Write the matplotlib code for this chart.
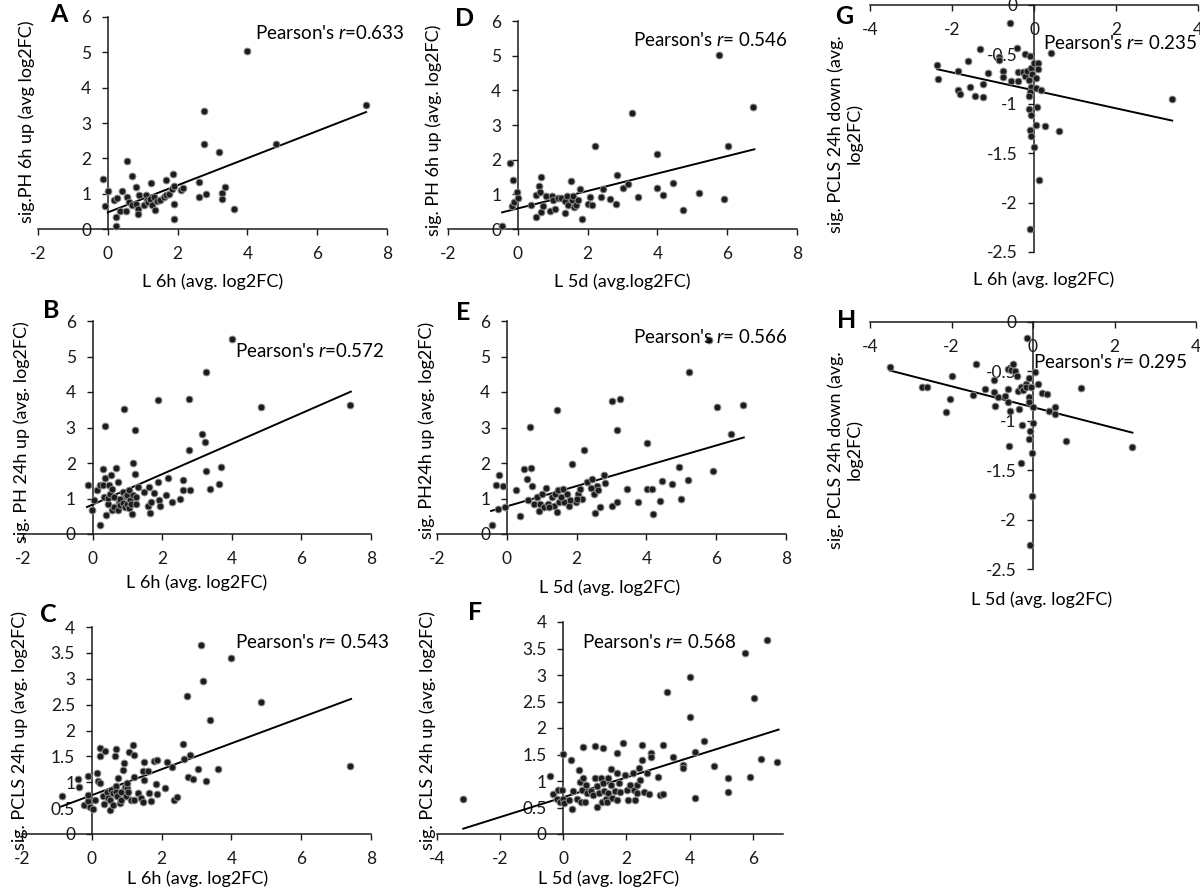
import matplotlib.pyplot as plt
from matplotlib.ticker import FuncFormatter, MultipleLocator

plt.rcParams['font.family'] = ['Lato', 'DejaVu Sans']
plt.rcParams['mathtext.fontset'] = 'custom'
plt.rcParams['mathtext.rm'] = 'Lato'
plt.rcParams['mathtext.it'] = 'Lato:italic'

# ---- panel A: L 6h vs sig. PH 6h up
a_x = [-0.13, -0.07, 0.01, 0.17, 0.25, 0.24, 0.24, 0.34, 0.41, 0.53, 0.55, 0.55, 0.61, 0.70, 0.70,
       0.82, 0.82, 0.86, 0.86, 0.90, 1.05, 1.10, 1.12, 1.14, 1.22, 1.24, 1.27, 1.31, 1.36, 1.41,
       1.50, 1.60, 1.68, 1.68, 1.74, 1.84, 1.87, 1.89, 1.89, 1.91, 2.10, 2.15, 2.61, 2.61, 2.77,
       2.77, 2.82, 3.20, 3.26, 3.28, 3.37, 3.62, 4.00, 4.82, 7.40]
a_y = [1.41, 0.65, 1.08, 0.81, 0.88, 0.33, 0.08, 0.51, 1.08, 0.51, 1.92, 0.91, 0.77, 1.51, 0.69,
       1.18, 0.72, 0.56, 0.43, 0.96, 0.68, 0.96, 0.81, 0.76, 0.86, 1.31, 0.67, 0.91, 0.55, 0.78,
       0.81, 0.91, 1.38, 0.95, 1.00, 1.14, 1.55, 1.23, 0.29, 0.72, 1.11, 1.16, 1.33, 0.91, 3.35,
       2.40, 0.98, 2.18, 1.03, 0.85, 1.18, 0.56, 5.04, 2.41, 3.51]
a_fit_x = [0.0, 7.4]
a_fit_y = [0.47, 3.31]

# ---- panel D: L 5d vs sig. PH 6h up
d_x = [-0.44, -0.23, -0.17, -0.14, -0.11, -0.02, 0.00, 0.38, 0.51, 0.53, 0.61, 0.63, 0.67, 0.67,
       0.71, 0.80, 0.91, 0.99, 1.01, 1.07, 1.16, 1.25, 1.34, 1.35, 1.41, 1.44, 1.52, 1.54, 1.59,
       1.62, 1.68, 1.73, 1.79, 1.85, 2.02, 2.06, 2.13, 2.20, 2.38, 2.45, 2.63, 2.82, 2.83, 3.01,
       3.16, 3.27, 3.44, 3.99, 4.00, 4.17, 4.45, 4.73, 5.20, 5.77, 5.91, 6.02, 6.75]
d_y = [0.09, 1.91, 0.65, 1.40, 0.79, 1.07, 0.88, 0.69, 0.34, 0.99, 1.23, 1.07, 1.51, 0.50,
       0.66, 0.95, 0.53, 0.95, 0.85, 0.58, 0.89, 0.88, 0.82, 0.46, 0.96, 0.69, 1.38, 0.83, 0.96,
       0.63, 0.69, 0.83, 1.16, 0.30, 0.73, 0.91, 0.69, 2.38, 0.91, 1.14, 0.86, 0.73, 1.56, 1.17,
       1.31, 3.35, 0.91, 2.17, 1.18, 0.99, 1.34, 0.56, 1.04, 5.03, 0.87, 2.39, 3.52]
d_fit_x = [-0.45, 6.78]
d_fit_y = [0.48, 2.30]

# ---- panel G: L 6h vs sig. PCLS 24h down
g_x = [-2.36, -2.35, -1.86, -1.86, -1.80, -1.61, -1.55, -1.45, -1.31, -1.25, -1.25, -1.12, -0.86,
       -0.85, -0.76, -0.76, -0.59, -0.56, -0.42, -0.40, -0.38, -0.28, -0.22, -0.22, -0.16, -0.12,
       -0.09, -0.07, -0.07, -0.09, -0.12, -0.12, -0.09, -0.07, -0.01, -0.07, -0.04, 0.00, 0.04,
       0.07, 0.04, 0.04, 0.09, 0.09, -0.10, 0.12, 0.17, 0.28, 0.41, 0.61, 3.36]
g_y = [-0.61, -0.75, -0.67, -0.86, -0.90, -0.57, -0.83, -0.92, -0.45, -0.80, -0.93, -0.69, -0.53,
       -0.56, -0.67, -0.73, -0.18, -0.77, -0.44, -0.68, -0.77, -0.68, -0.50, -0.72, -0.67, -0.76,
       -0.52, -0.64, -0.83, -0.88, -0.92, -1.05, -1.27, -1.33, -1.44, -1.11, -0.70, -0.59, -0.74,
       -1.03, -1.21, -0.84, -0.59, -0.65, -2.27, -1.77, -0.86, -1.22, -0.49, -1.28, -0.95]
g_fit_x = [-2.36, 3.37]
g_fit_y = [-0.65, -1.17]

# ---- panel B: L 6h vs sig. PH 24h up
b_x = [-0.12, -0.02, 0.05, 0.14, 0.20, 0.22, 0.29, 0.30, 0.34, 0.35, 0.37, 0.39, 0.43, 0.45, 0.46,
       0.51, 0.53, 0.55, 0.57, 0.62, 0.62, 0.67, 0.72, 0.74, 0.77, 0.80, 0.80, 0.86, 0.88, 0.89,
       0.93, 0.96, 0.99, 1.00, 1.05, 1.05, 1.07, 1.10, 1.13, 1.15, 1.15, 1.23, 1.23, 1.25, 1.25,
       1.31, 1.48, 1.58, 1.63, 1.65, 1.68, 1.77, 1.87, 1.89, 1.92, 1.93, 2.10, 2.16, 2.29, 2.51,
       2.61, 2.61, 2.76, 2.77, 2.81, 3.15, 3.22, 3.27, 3.27, 3.38, 3.62, 3.70, 4.00, 4.85, 7.41]
b_y = [1.37, 0.67, 0.95, 1.25, 1.39, 0.26, 1.82, 1.37, 1.04, 3.03, 1.57, 0.53, 0.85, 1.02, 1.37,
       1.12, 1.67, 1.28, 0.67, 1.04, 0.75, 1.87, 0.67, 1.47, 0.90, 0.81, 1.00, 1.18, 0.88, 3.51,
       0.75, 1.06, 0.85, 1.10, 1.23, 0.72, 0.97, 0.85, 0.55, 2.00, 1.09, 2.94, 1.68, 1.04, 0.84,
       1.31, 1.19, 0.78, 1.31, 0.59, 0.91, 1.15, 1.46, 3.77, 0.95, 0.79, 1.10, 1.58, 0.91, 1.00,
       1.51, 1.25, 3.79, 2.38, 1.25, 2.83, 2.58, 4.56, 1.78, 1.26, 1.40, 1.89, 5.48, 3.58, 3.63]
b_fit_x = [-0.16, 7.42]
b_fit_y = [0.76, 4.01]

# ---- panel E: L 5d vs sig. PH 24h up
e_x = [-0.43, -0.32, -0.24, -0.22, -0.12, -0.05, 0.27, 0.39, 0.48, 0.59, 0.62, 0.67, 0.70, 0.73,
       0.77, 0.86, 0.92, 0.94, 1.00, 1.07, 1.13, 1.17, 1.29, 1.36, 1.39, 1.44, 1.44, 1.48, 1.51,
       1.60, 1.65, 1.72, 1.79, 1.82, 1.88, 1.99, 2.03, 2.11, 2.16, 2.20, 2.30, 2.44, 2.49, 2.52,
       2.58, 2.66, 2.79, 2.82, 3.00, 3.00, 3.16, 3.16, 3.25, 3.45, 3.76, 4.02, 4.02, 4.17, 4.19,
       4.40, 4.46, 4.74, 4.93, 5.00, 5.19, 5.21, 5.78, 5.91, 6.03, 6.42, 6.76,
       1.20, 1.55, 2.00, 2.40, 2.60]
e_y = [0.26, 1.37, 0.71, 1.65, 1.35, 0.76, 1.25, 0.52, 1.82, 1.54, 0.95, 3.02, 1.86, 1.36,
       0.85, 1.04, 0.65, 0.85, 1.14, 0.76, 1.29, 0.85, 1.04, 0.78, 1.14, 0.63, 3.50, 1.23, 0.91,
       1.28, 0.89, 1.12, 0.78, 0.95, 1.98, 0.90, 1.12, 1.27, 0.98, 2.37, 1.46, 1.56, 1.12, 0.60,
       1.36, 0.76, 1.67, 1.44, 3.74, 0.79, 2.94, 0.91, 3.79, 1.26, 0.91, 2.57, 1.26, 1.26, 0.55,
       0.93, 1.50, 1.41, 1.89, 1.00, 1.51, 4.56, 5.46, 1.78, 3.57, 2.82, 3.62,
       0.75, 1.05, 1.00, 1.30, 1.25]
e_fit_x = [-0.45, 6.79]
e_fit_y = [0.65, 2.72]

# ---- panel H: L 5d vs sig. PCLS 24h down
h_x = [-3.52, -2.72, -2.59, -2.13, -2.04, -1.99, -1.48, -1.39, -1.19, -0.96, -0.96, -0.93, -0.86,
       -0.68, -0.62, -0.61, -0.61, -0.60, -0.56, -0.53, -0.48, -0.43, -0.40, -0.38, -0.34, -0.30,
       -0.29, -0.26, -0.24, -0.18, -0.16, -0.14, -0.11, -0.11, -0.11, -0.09, -0.07, -0.06, -0.07,
       -0.03, -0.02, 0.00, 0.01, 0.05, 0.12, 0.22, 0.34, 0.40, 0.54, 0.54, 0.80, 1.18, 2.42]
h_y = [-0.46, -0.66, -0.66, -0.91, -0.78, -0.55, -0.74, -0.43, -0.68, -0.59, -0.71, -0.85, -0.76,
       -0.75, -0.48, -0.68, -0.81, -1.25, -0.90, -0.49, -0.43, -0.50, -0.55, -0.70, -0.88, -1.43,
       -0.66, -1.04, -0.69, -0.63, -0.66, -0.16, -0.76, -0.81, -0.57, -1.18, -1.10, -0.66, -2.26,
       -1.33, -1.76, -0.86, -1.02, -0.51, -0.63, -0.72, -0.73, -0.90, -0.86, -0.93, -1.20, -0.67,
       -1.27]
h_fit_x = [-3.52, 2.44]
h_fit_y = [-0.49, -1.12]

# ---- panel C: L 6h vs sig. PCLS 24h up
c_x = [-0.86, -0.40, -0.38, -0.21, -0.11, -0.10, -0.10, -0.04, 0.03, 0.10, 0.15, 0.17, 0.24, 0.24,
       0.24, 0.32, 0.36, 0.38, 0.44, 0.45, 0.51, 0.53, 0.55, 0.60, 0.60, 0.67, 0.69, 0.70, 0.70,
       0.73, 0.76, 0.80, 0.84, 0.85, 0.89, 0.92, 0.94, 0.98, 1.00, 1.01, 1.05, 1.08, 1.11, 1.17,
       1.20, 1.22, 1.22, 1.32, 1.41, 1.46, 1.48, 1.49, 1.51, 1.60, 1.63, 1.70, 1.78, 1.84, 1.86,
       1.87, 2.11, 2.15, 2.29, 2.35, 2.45, 2.61, 2.63, 2.72, 2.75, 2.80, 2.89, 3.04, 3.14, 3.20,
       3.28, 3.39, 3.63, 4.00, 4.85, 7.41]
c_y = [0.73, 1.07, 0.91, 0.57, 0.63, 1.12, 0.76, 0.52, 0.49, 0.66, 1.17, 1.03, 1.66, 1.50,
       0.98, 0.73, 0.58, 1.61, 0.82, 0.70, 0.46, 0.66, 0.85, 0.57, 0.80, 1.50, 1.64, 0.93, 0.82,
       0.74, 1.08, 0.60, 0.82, 0.65, 1.23, 1.38, 0.90, 0.73, 0.88, 0.98, 0.82, 1.59, 0.66, 1.72,
       1.53, 1.10, 0.66, 0.79, 0.69, 1.21, 0.61, 1.39, 1.05, 1.21, 0.79, 0.63, 1.41, 0.97, 1.43,
       0.77, 0.89, 1.39, 1.29, 0.66, 0.71, 1.74, 1.44, 2.66, 1.11, 1.53, 1.07, 1.25, 3.65, 2.95,
       1.03, 2.20, 1.26, 3.41, 2.55, 1.32]
c_fit_x = [-0.88, 7.43]
c_fit_y = [0.53, 2.61]

# ---- panel F: L 5d vs sig. PCLS 24h up
f_x = [-3.19, -0.42, -0.32, -0.19, -0.16, -0.11, -0.05, 0.00, 0.00, 0.02, 0.19, 0.23, 0.29, 0.32,
       0.45, 0.51, 0.53, 0.55, 0.58, 0.63, 0.63, 0.69, 0.71, 0.74, 0.87, 0.93, 1.00, 1.00, 1.06,
       1.08, 1.13, 1.18, 1.22, 1.25, 1.25, 1.29, 1.34, 1.37, 1.43, 1.43, 1.50, 1.50, 1.53, 1.64,
       1.69, 1.69, 1.71, 1.78, 1.80, 1.90, 1.96, 2.03, 2.06, 2.11, 2.20, 2.25, 2.27, 2.33, 2.35,
       2.41, 2.43, 2.48, 2.48, 2.56, 2.64, 2.70, 2.77, 2.78, 3.01, 3.07, 3.15, 3.17, 3.27, 3.49,
       3.78, 3.80, 4.02, 4.02, 4.17, 4.18, 4.46, 4.76, 5.21, 5.21, 5.77, 5.92, 6.03, 6.26, 6.45,
       6.77]
f_y = [0.66, 1.10, 0.75, 0.66, 0.83, 0.60, 0.83, 1.51, 0.66, 0.58, 0.65, 1.40, 0.47, 0.82,
       0.66, 1.20, 0.99, 0.61, 0.83, 1.64, 1.05, 0.61, 0.93, 0.77, 0.82, 0.74, 1.66, 1.05, 0.90,
       0.51, 0.77, 1.05, 0.61, 1.62, 0.96, 0.82, 0.66, 0.60, 1.05, 0.77, 1.22, 0.93, 0.68, 0.82,
       1.52, 1.15, 0.65, 0.96, 0.80, 1.71, 1.12, 0.83, 0.65, 0.93, 1.15, 0.83, 0.65, 0.93, 0.78,
       1.24, 1.02, 1.68, 1.40, 0.80, 1.15, 0.76, 1.52, 1.45, 1.08, 0.74, 1.68, 0.75, 2.68, 1.45,
       1.30, 1.24, 2.97, 2.21, 0.68, 1.54, 1.76, 1.29, 1.05, 0.80, 3.42, 1.07, 2.57, 1.42, 3.66,
       1.35]
f_fit_x = [-3.17, 6.82]
f_fit_y = [0.10, 1.97]

W, H = 1200, 893
fig = plt.figure(figsize=(12, 8.93), dpi=100)
fmt = FuncFormatter(lambda v, _: f"{v:g}")


def panel(box, x, y, fx, fy, xlim, ylim, ystep, xlabel, ylabel, rtext,
          letter, letter_xy, r_xy, xl_xy, yl_xy):
    left, top, right, bottom = box
    ax = fig.add_axes([left / W, 1 - bottom / H, (right - left) / W, (bottom - top) / H])
    ax.set_xlim(xlim)
    ax.set_ylim(ylim)
    ax.set_facecolor('none')
    for s in ('top', 'right'):
        ax.spines[s].set_visible(False)
    for s in ('left', 'bottom'):
        ax.spines[s].set_position(('data', 0))
        ax.spines[s].set_linewidth(1.1)
        ax.spines[s].set_color('#1a1a1a')
    ax.xaxis.set_major_locator(MultipleLocator(2))
    ax.yaxis.set_major_locator(MultipleLocator(ystep))
    ax.xaxis.set_major_formatter(fmt)
    ax.yaxis.set_major_formatter(fmt)
    ax.tick_params(direction='out', length=4, width=1, pad=8, labelsize=12.5,
                   colors='#1a1a1a')
    ax.plot(fx, fy, color='black', lw=1.4, zorder=3)
    ax.scatter(x, y, s=24, c='#1c1c1c', edgecolors='#8c8c8c', linewidths=0.7,
               zorder=4, clip_on=False)
    ax.set_xlabel(xlabel, fontsize=13, va='center')
    ax.set_ylabel(ylabel, fontsize=13, va='center', ha='center', multialignment='center')
    ax.xaxis.set_label_coords(xl_xy[0] / W, 1 - xl_xy[1] / H, transform=fig.transFigure)
    ax.yaxis.set_label_coords(yl_xy[0] / W, 1 - yl_xy[1] / H, transform=fig.transFigure)
    fig.text(letter_xy[0] / W, 1 - letter_xy[1] / H, letter, fontsize=18,
             fontweight='bold', ha='left', va='center')
    fig.text(r_xy[0] / W, 1 - r_xy[1] / H, rtext, fontsize=13.5, ha='left', va='center')
    return ax


panel((38, 17, 387, 229), a_x, a_y, a_fit_x, a_fit_y, (-2, 8), (0, 6), 1,
      "L 6h (avg. log2FC)", "sig.PH 6h up (avg log2FC)", "Pearson's $r$=0.633",
      "A", (50, 15), (255, 33), (213, 282), (27, 122))
panel((448, 21, 797, 229), d_x, d_y, d_fit_x, d_fit_y, (-2, 8), (0, 6), 1,
      "L 5d (avg.log2FC)", "sig. PH 6h up (avg. log2FC)", "Pearson's $r$= 0.546",
      "D", (455, 18), (633, 40), (622, 282), (434, 130))
panel((870, 5, 1198, 252), g_x, g_y, g_fit_x, g_fit_y, (-4, 4), (-2.5, 0), 0.5,
      "L 6h (avg. log2FC)", "sig. PCLS 24h down (avg.\nlog2FC)", "Pearson's $r$= 0.235",
      "G", (835, 17), (1043, 43), (1044, 280), (845, 134))
panel((23, 321, 371, 534), b_x, b_y, b_fit_x, b_fit_y, (-2, 8), (0, 6), 1,
      "L 6h (avg. log2FC)", "sig. PH 24h up (avg. log2FC)", "Pearson's $r$=0.572",
      "B", (43, 311), (235, 351), (197, 583), (22, 432))
panel((437, 321, 786, 534), e_x, e_y, e_fit_x, e_fit_y, (-2, 8), (0, 6), 1,
      "L 5d (avg. log2FC)", "sig. PH24h up (avg. log2FC)", "Pearson's $r$= 0.566",
      "E", (456, 312), (633, 337), (610, 588), (427, 430))
panel((870, 322, 1196, 569), h_x, h_y, h_fit_x, h_fit_y, (-4, 4), (-2.5, 0), 0.5,
      "L 5d (avg. log2FC)", "sig. PCLS 24h down (avg.\nlog2FC)", "Pearson's $r$= 0.295",
      "H", (837, 321), (1033, 362), (1042, 600), (845, 450))
panel((22, 627, 371, 834), c_x, c_y, c_fit_x, c_fit_y, (-2, 8), (0, 4), 0.5,
      "L 6h (avg. log2FC)", "sig. PCLS 24h up (avg. log2FC)", "Pearson's $r$= 0.543",
      "C", (40, 614), (235, 642), (198, 879), (20, 730))
panel((437, 622, 783, 834), f_x, f_y, f_fit_x, f_fit_y, (-4, 6.96), (0, 4), 0.5,
      "L 5d (avg. log2FC)", "sig. PCLS 24h up (avg. log2FC)", "Pearson's $r$= 0.568",
      "F", (468, 612), (582, 642), (609, 879), (428, 730))

fig.savefig("out.png", dpi=100)
